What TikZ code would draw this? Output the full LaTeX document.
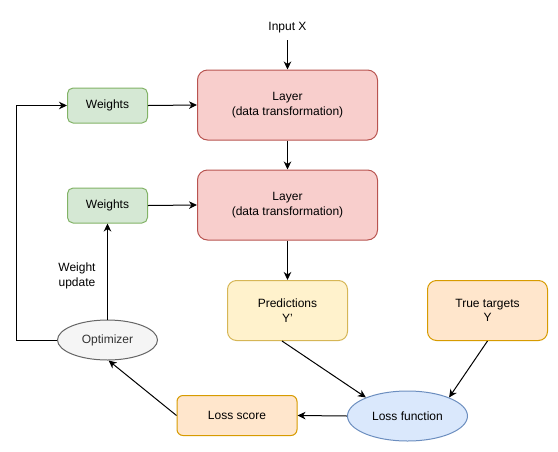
\documentclass[tikz,border=0pt]{standalone}
\usepackage{fontspec}
\setmainfont{Liberation Sans}
\usetikzlibrary{arrows.meta,shapes.geometric}
\definecolor{redF}{HTML}{F8CECC}\definecolor{redS}{HTML}{B85450}
\definecolor{grnF}{HTML}{D5E8D4}\definecolor{grnS}{HTML}{82B366}
\definecolor{yelF}{HTML}{FFF2CC}\definecolor{yelS}{HTML}{D6B656}
\definecolor{orgF}{HTML}{FFE6CC}\definecolor{orgS}{HTML}{D79B00}
\definecolor{bluF}{HTML}{DAE8FC}\definecolor{bluS}{HTML}{6C8EBF}
\definecolor{gryF}{HTML}{F5F5F5}\definecolor{gryS}{HTML}{666666}
\definecolor{gryT}{HTML}{333333}
\begin{document}
\begin{tikzpicture}[x=1pt,y=-1pt,
  txt/.style={font=\fontsize{12}{14.5}\selectfont, align=center, inner sep=0pt},
  rbox/.style n args={5}{txt, rectangle, draw=#2, fill=#1, line width=1pt,
     rounded corners=#5, minimum width=#3, minimum height=#4},
  ebox/.style n args={4}{txt, ellipse, draw=#2, fill=#1, line width=1pt,
     minimum width=#3, minimum height=#4},
  arr/.style={line width=1pt, -{Stealth[length=8pt,width=7.5pt,inset=2.5pt]}},
  plain/.style={line width=1pt}]
\useasboundingbox (0,0) rectangle (558,451);
\node[txt, minimum height=24pt] (inp) at (287.5,28) {Input X};
\node[rbox={redF}{redS}{180pt}{70pt}{10pt}] (l1) at (287.5,105) {Layer\\(data transformation)};
\node[rbox={redF}{redS}{180pt}{70pt}{10pt}] (l2) at (287.5,205) {Layer\\(data transformation)};
\node[rbox={grnF}{grnS}{80pt}{35pt}{5.5pt}] (w1) at (107.5,105.5) {Weights};
\node[rbox={grnF}{grnS}{80pt}{35pt}{5.5pt}] (w2) at (107.5,205.5) {Weights};
\node[rbox={yelF}{yelS}{120pt}{60pt}{9pt}] (pred) at (287.5,310.5) {Predictions\\Y'};
\node[rbox={orgF}{orgS}{120pt}{60pt}{9pt}] (tt) at (487.5,310.5) {True targets\\Y};
\node[rbox={orgF}{orgS}{120pt}{40pt}{6pt}] (ls) at (237,415.5) {Loss score};
\node[ebox={bluF}{bluS}{120pt}{50pt}] (lf) at (407.5,416) {Loss function};
\node[ebox={gryF}{gryS}{100pt}{40pt}, text=gryT] (opt) at (107.5,340) {Optimizer};
\node[txt] (wu) at (77,276) {Weight\\update};
\draw[arr] (inp.south) -- (l1.north);
\draw[arr] (l1.south) -- (l2.north);
\draw[arr] (w1.east) -- (l1.west);
\draw[arr] (w2.east) -- (l2.west);
\draw[arr] (l2.south) -- (pred.north);
\draw[arr] ([xshift=-5.5pt]pred.south) -- (lf.156);
\draw[arr] (tt.south) -- (lf.24);
\draw[arr] (lf.west) -- (ls.east);
\draw[arr] (ls.west) -- (opt.-87);
\draw[arr] (opt.north) -- (w2.south);
\draw[arr] (opt.west) -- ++(-40.5,0) |- (w1.west);
\end{tikzpicture}
\end{document}
